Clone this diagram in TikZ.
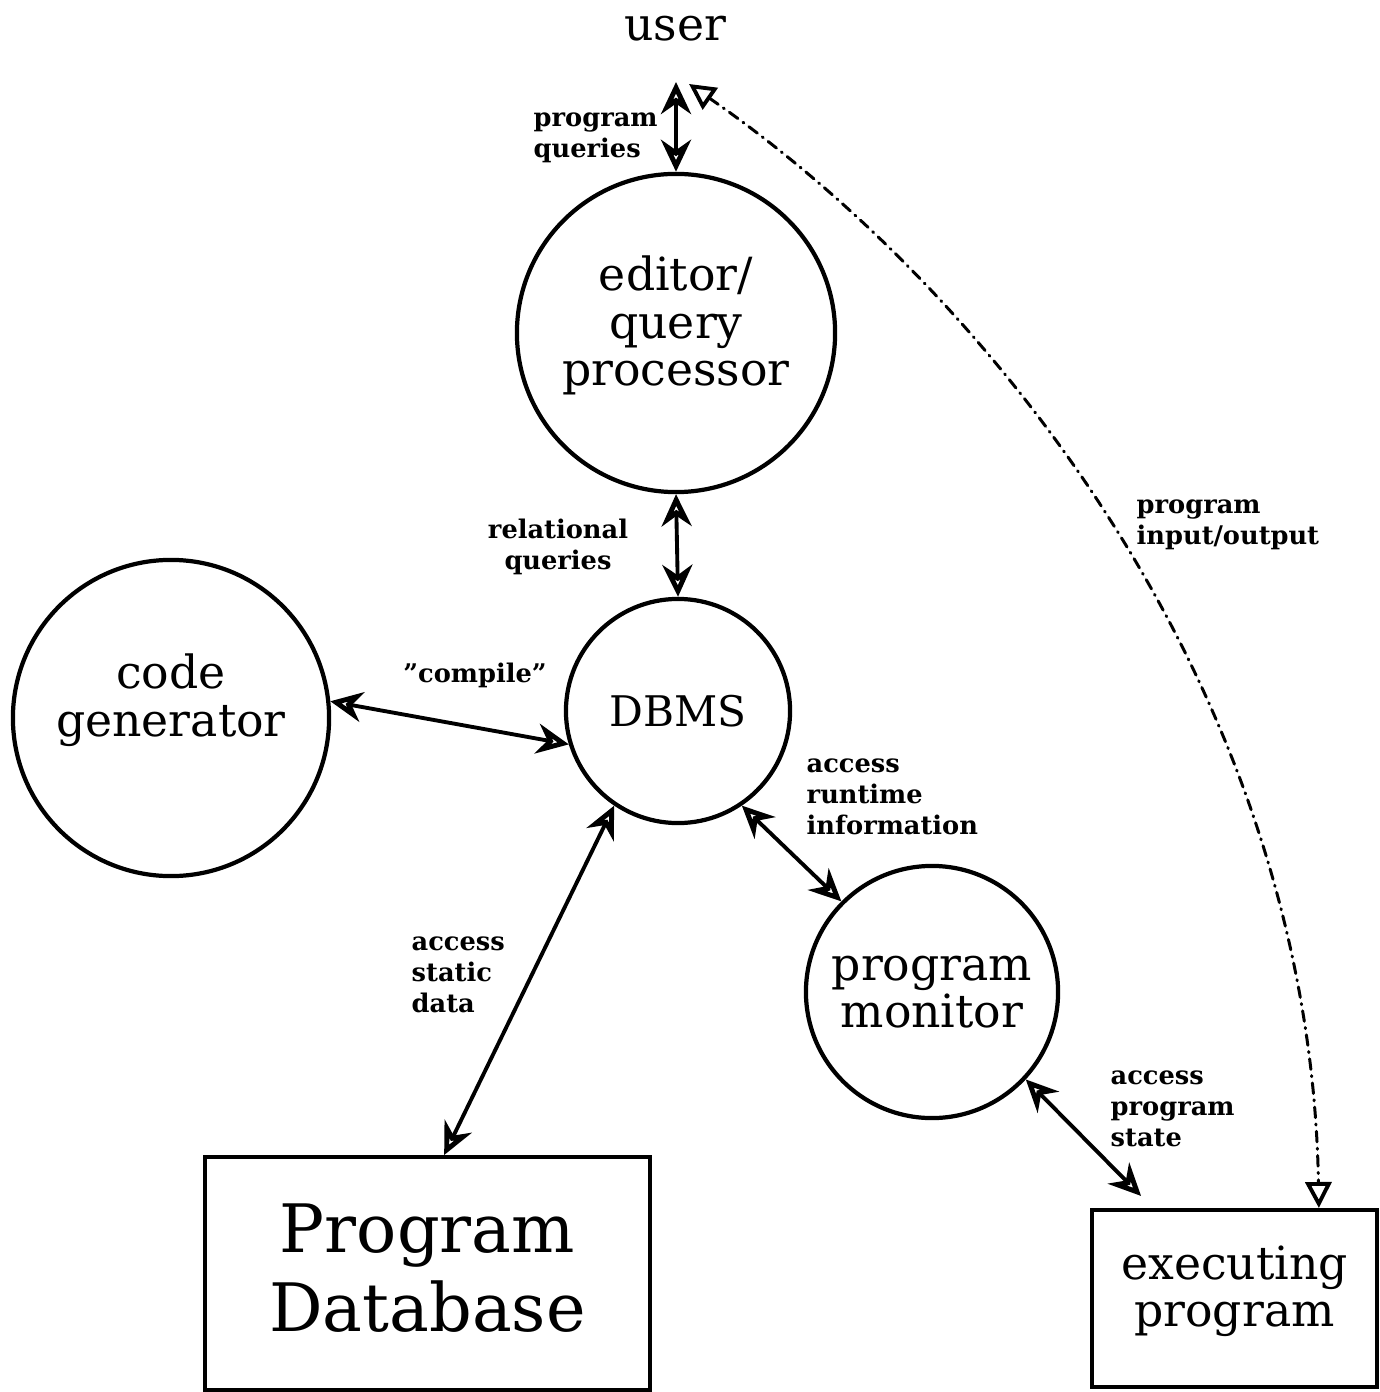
\documentclass[tikz,border=0pt]{standalone}
\usepackage{fontspec}
\setmainfont{DejaVu Serif}
\usetikzlibrary{arrows.meta,calc}
\begin{document}
\begin{tikzpicture}[x=0.01cm,y=-0.01cm,
  bubble/.style={circle,draw,line width=1.2pt,inner sep=0pt,align=center,
    font=\fontsize{13}{13.4}\selectfont},
  box/.style={rectangle,draw,line width=1.1pt,inner sep=0pt,align=center},
  lab/.style={font=\bfseries\fontsize{7.3}{8.8}\selectfont,inner sep=0pt},
  link/.style={line width=1.1pt,
    {Stealth[open,length=3.2mm,width=3mm,line width=1.4pt]}-{Stealth[open,length=3.2mm,width=3mm,line width=1.4pt]}},
  io/.style={line width=0.85pt,line cap=round,dash pattern=on 3pt off 1.8pt on 0.3pt off 1.8pt,
    {Triangle[open,length=2.6mm,width=2.6mm,line width=1.1pt]}-{Triangle[open,length=2.6mm,width=2.6mm,line width=1.1pt]}}
]
\useasboundingbox (0,0) rectangle (1379,1392);

% processes
\node[font=\fontsize{13}{15}\selectfont] (user) at (675,29) {user};
\node[bubble,minimum size=3.18cm,text depth=7pt] (editor) at (676,333) {editor/\\query\\processor};
\node[bubble,minimum size=2.24cm,font=\fontsize{12}{14}\selectfont] (dbms) at (678,711) {DBMS};
\node[bubble,minimum size=3.16cm,text depth=13pt] (code) at (171,718) {code\\generator};
\node[bubble,minimum size=2.52cm] (mon) at (932,992) {program\\monitor};

% stores
\node[box,minimum width=4.45cm,minimum height=2.33cm,text depth=3.4pt,
  font=\fontsize{19}{22.5}\selectfont] (pdb) at (427.5,1273.5) {Program\\Database};
\node[box,minimum width=2.85cm,minimum height=1.77cm,text depth=7pt,
  font=\fontsize{13}{13.4}\selectfont] (exec) at (1234.5,1298.5) {executing\\program};

% loose ends below the user
\coordinate (uq) at (676,82);
\coordinate (uio) at (689,84);

% data flows
\draw[link] (uq) -- (editor.north);
\draw[link] (editor.south) -- (dbms.north);
\draw[link] (code.6) -- (dbms.197);
\draw[link] (dbms.-56) -- (mon.135);
\draw[link] (dbms.236) -- (pdb.82.6);
\draw[link,shorten >=1.7mm] (mon.-43.5) -- (exec.132);
\draw[io] (uio) .. controls (1000,300) and (1310,700) .. (exec.47);

% flow labels
\node[lab,anchor=west,align=left] (lq) at (533,138) {program\\queries};
\node[lab,align=center] (lr) at (558,547) {relational\\queries};
\node[lab] (lc) at (475,675) {"compile"};
\node[lab,anchor=west,align=left] (lrt) at (806,797) {access\\runtime\\information};
\node[lab,anchor=west,align=left] (ls) at (411,975) {access\\static\\data};
\node[lab,anchor=west,align=left] (lps) at (1110,1109) {access\\program\\state};
\node[lab,anchor=west,align=left] (lio) at (1136,525) {program\\input/output};
\end{tikzpicture}
\end{document}
